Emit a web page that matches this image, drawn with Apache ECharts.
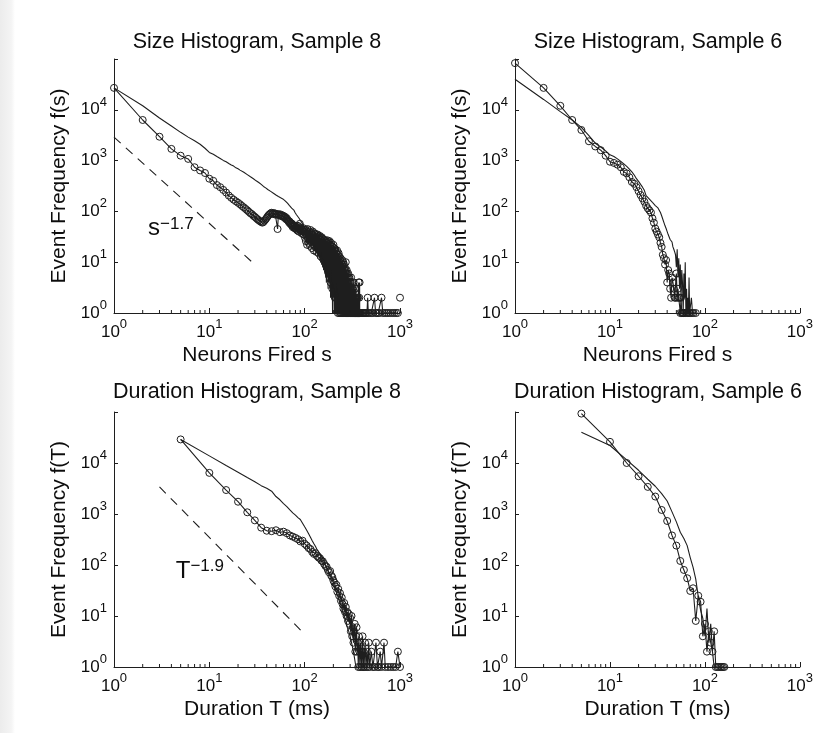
<!DOCTYPE html>
<html><head><meta charset="utf-8">
<script src="https://cdn.jsdelivr.net/npm/echarts@6/dist/echarts.min.js"></script>
<style>html,body{margin:0;padding:0;background:#fff}#c{width:816px;height:733px}</style>
</head><body><div id="c"></div>
<script>
// ---------------- DATA ----------------
const titles = ['Size Histogram, Sample 8','Size Histogram, Sample 6','Duration Histogram, Sample 8','Duration Histogram, Sample 6'];
const xNames = ['Neurons Fired s','Neurons Fired s','Duration T (ms)','Duration T (ms)'];
const yNames = ['Event Frequency f(s)','Event Frequency f(s)','Event Frequency f(T)','Event Frequency f(T)'];
const minorTickValues = [2,3,4,5,6,7,8,9,20,30,40,50,60,70,80,90,200,300,400,500,600,700,800,900];

// Panel 1: size histogram, sample 8 (x = 1, 2, 3, ... neurons)
const sizeS8CircY = [27000,6300,2950,1700,1250,1080,740,640,570,440,
400,330,300,265,235,205,185,170,158,148,
138,128,120,112,105,98,92,88,82,78,
74,70,67,64,62,60,62,66,70,75,
80,85,88,92,94,90,93,88,91,86,
89,45,87,84,88,82,85,80,83,78,
80,74,77,70,73,68,66,62,64,58,
60,55,58,52,49,54,50,47,52,46,
50,44,48,42,52,45,40,49,57,43,
46,38,44,41,36,47,40,35,43,39,
30,44,26,41,33,22,45,29,38,24,
40,27,36,21,43,31,25,38,19,35,
28,40,22,33,17,37,26,30,20,36,
24,31,16,34,27,19,35,22,29,15,
32,25,18,33,21,28,13,30,23,17,
31,20,26,12,29,18,24,11,28,19,
22,10,27,16,25,9,21,26,14,8,
24,17,27,7,20,12,25,6,18,23,
10,26,5,19,14,22,4,17,24,8,
15,21,5,18,3,20,11,16,4,22,
9,14,3,19,7,17,2,13,18,5,
12,16,2,10,15,4,13,8,17,3,
11,14,1,9,12,3,15,6,10,1,
13,5,9,2,11,7,1,12,4,8,
1,10,6,2,9,1,7,11,3,5,
1,8,4,10,2,6,1,9,3,7,
1,5,8,2,6,1,4,7,1,10,
3,6,1,5,2,7,1,4,6,1,
3,5,1,4,2,6,1,3,5,1,
4,2,1,5,1,3,2,4,1,3,
1,2,4,1,3,1,5,2,1,3,
1,2,1,4,1,2,3,1,1,2,
1,3,1,2,1,1,4,1,2,1,
1,2,1,1,3,1,1,2,1,1,
2,1,1,1,3,1,2,1,1,1,
1,2,1,1,1,1,2,1,1,1,
1,1,2,1,1,1,1,4,1,1,
1,1,1,2,1,1,4,1,1,1];
const sizeS8CircTailX = [390,400,410,420,430,440,450,458,465,480,500,520,540,555,570,590,610,640,660,690,720,750,790,830,870,910,950,975,1000];
const sizeS8CircTailY = [1,1,1,1,1,1,1,2,1,1,1,1,2,1,1,1,1,2,1,1,1,1,1,1,1,1,1,'-',2];
const sizeS8SolidY = [27000,12000,6900,4800,3600,2900,2450,2100,1750,1450,
1330,1200,1100,1010,950,880,820,780,720,690,
650,620,590,560,530,500,480,460,440,420,
400,385,370,350,340,325,310,300,290,280,
270,262,255,248,240,234,228,222,216,210,
205,200,196,192,188,185,182,180,176,172,
168,163,158,154,150,145,140,135,131,127,
125,120,116,118,115,110,106,100,96,98,
90,86,88,82,80,82,74,76,72,70,
68,63,61,64,57,58,53,55,50,48,
46,49,44,40,45,38,42,36,40,34,
37,32,35,30,33,28,31,27,29,25,
26,22,28,20,25,18,27,21,16,24,
19,23,15,22,18,14,21,17,20,13,
19,16,12,18,15,11,17,14,10,16,
13,9,15,12,8,14,11,7,13,10,
8,12,6,11,9,5,10,8,4,11,
7,9,5,10,6,3,8,6,9,4,
7,5,8,3,6,9,2,7,5,4,
6,2,8,4,5,1,7,3,5,2,
6,3,4,1,5,2,6,3,1,4,2,5,1,3,4,1,2,5,1,3,
2,1,4,2,1,3,1,2,4,1,1,3,2,1,1,2,1,3,1,1,
2,1,1,3,1,1,2,1,1,1,2,1,1,1,1,2,1,1,1,1];
const sizeS8FitX = [1, 31];
const sizeS8FitY = [2900, 8.5];

// Panel 2: size histogram, sample 6
const sizeS6CircY = [83000,27000,12000,6300,4000,2400,1900,1600,1250,950,
900,830,740,600,560,470,380,350,300,250,
210,180,155,130,115,105,95,73,60,46,
40,35,31,24,20,14,12,9,11,4,
7,6,3,2,5,4,3,2,2,6,
2,3,2,2,1,2,1,1,1,1];
const sizeS6CircTailX = [62,64,66,68,70,73,76,80];
const sizeS6CircTailY = [1,1,1,1,1,1,1,1];
const sizeS6SolidY = [40000,16000,9200,6300,4500,3100,2200,1850,1550,1300,
1200,1080,960,860,770,680,600,520,440,390,
340,300,260,205,190,175,162,150,140,130,
123,117,112,95,82,70,60,52,46,40,
35,33,28,27,25,20,18,16,14,8,
18,5,12,3,9,2,7,4,1,6,
2,10,1,3,1,2,1,5,1,1];
const sizeS6SolidTailX = [72,74,78,82];
const sizeS6SolidTailY = [2,1,1,1];

// Panel 3: duration histogram, sample 8 (5 ms bins)
const durS8CircX = [5,10,15,20,25,30,35,40,45,50,55,60,65,70,75,80,85,90,95,100,
105,110,115,120,125,130,135,140,145,150,155,160,165,170,175,180,185,190,195,200,
205,210,215,220,225,230,235,240,245,250,255,260,265,270,275,280,285,290,295,300,
305,310,315,320,325,330,335,340,345,350,355,360,365,370,375,380,385,390,395,400,
405,410,415,420,430,440,450,460,470,480,500,520,540,560,580,600,620,640,680,700,
750,800,850,900,950,1000];
const durS8CircY = [29000,6400,2950,1740,1080,750,540,470,460,480,440,450,420,380,360,340,320,290,300,260,
240,215,205,180,165,170,150,140,135,122,118,105,96,92,80,72,76,62,58,50,
45,38,41,30,34,25,28,20,23,17,14,18,12,15,10,12,8,11,7,9,
5,10,4,6,3,5,7,2,4,6,2,3,1,4,2,1,3,2,1,2,
4,1,2,1,3,1,2,1,3,1,2,1,1,3,1,1,2,1,3,1,
1,1,1,1,2,1];
const durS8SolidX = [5,10,15,20,25,30,35,40,45,50,55,60,65,70,75,80,85,90,95,100,
105,110,115,120,125,130,135,140,145,150,155,160,165,170,175,180,185,190,195,200,
205,210,215,220,225,230,235,240,245,250,255,260,265,270,275,280,285,290,295,300,
305,310,315,320,325,330,335,340,345,350];
const durS8SolidY = [29000,13800,8900,6600,5200,4300,3600,3200,2800,2200,1900,1600,1400,1200,1050,950,850,780,660,560,
480,410,350,300,260,230,200,180,165,155,130,115,100,88,78,70,62,55,50,44,
38,33,29,26,23,20,18,16,14,12,11,10,9,8,7,6,6,5,5,4,
4,3,3,3,2,2,2,2,1,1];
const durS8FitX = [3, 100];
const durS8FitY = [3400, 4.4];

// Panel 4: duration histogram, sample 6
const durS6CircX = [5,10,15,20,25,30,35,40,45,50,55,60,65,70,75,80,85,90,95,100,105,110,115,120,125,130,135,140,145,150,155,160];
const durS6CircY = [93000,26000,10000,5500,3400,2200,1200,730,380,240,120,80,55,31,35,8,25,19,4,7,2,5,3,2,5,1,1,1,1,1,1,1];
const durS6SolidX = [5,10,15,20,25,30,35,40,45,50,55,60,65,70,75,80,85,90,95,100,105,110,115,120,125,130];
const durS6SolidY = [40000,22000,11500,7200,4800,3500,2500,1800,1100,700,440,330,240,140,90,53,24,13,9,4,14,3,7,2,1,1];

// Annotations
const annotations = [
  {panel: 0, x: 3.95, y: 46, base: 's', exp: '\u22121.7'},
  {panel: 2, x: 7.96, y: 76, base: 'T', exp: '\u22121.9'}
];

// ---------------- CHART ----------------
const FONT = '"Liberation Sans", Arial, Helvetica, sans-serif';
const INK = '#0d0d0d';
const LINE = '#1e1e1e';
const seq = ys => ys.map((y, i) => [i + 1, y]);
const zip = (xs, ys) => xs.map((x, i) => [x, ys[i]]);

const grids = [
  {left: 114, top: 59, width: 286, height: 254},
  {left: 515, top: 59, width: 286, height: 254},
  {left: 114, top: 412, width: 286, height: 255},
  {left: 515, top: 412, width: 286, height: 255}
];
const richTick = {
  b: {fontSize: 17, lineHeight: 28, color: INK, fontFamily: FONT},
  s: {fontSize: 13, lineHeight: 12, verticalAlign: 'top', color: INK, fontFamily: FONT}
};
function powLabel(v) {
  const e = Math.round(Math.log10(v));
  if (e > 4) return '';
  return '{b|10}{s|' + e + '}';
}
const xAxes = grids.map((g, i) => ({
  type: 'log', logBase: 10, min: 1, max: 1000, gridIndex: i,
  axisLine: {lineStyle: {color: LINE, width: 1}},
  axisTick: {inside: true, length: 5, lineStyle: {color: LINE}},
  splitLine: {show: false},
  axisLabel: {formatter: powLabel, rich: richTick, margin: 5},
  name: xNames[i], nameLocation: 'middle', nameGap: 32,
  nameTextStyle: {fontSize: 21, color: INK, fontFamily: FONT}
}));
const yAxes = grids.map((g, i) => ({
  type: 'log', logBase: 10, min: 1, max: 100000, gridIndex: i,
  axisLine: {lineStyle: {color: LINE, width: 1}},
  axisTick: {inside: true, length: 4, lineStyle: {color: LINE}},
  splitLine: {show: false},
  axisLabel: {formatter: powLabel, rich: richTick, margin: 7},
  name: yNames[i], nameLocation: 'middle', nameGap: 44,
  nameTextStyle: {fontSize: 21, color: INK, fontFamily: FONT}
}));

function solid(i, data) {
  return {type: 'line', xAxisIndex: i, yAxisIndex: i, data, symbol: 'none', clip: false,
    lineStyle: {color: LINE, width: 1.1}, z: 3, silent: true};
}
function circles(i, data) {
  return {type: 'line', xAxisIndex: i, yAxisIndex: i, data, symbol: 'circle', symbolSize: 7,
    showAllSymbol: true, clip: false, connectNulls: false,
    itemStyle: {color: 'rgba(0,0,0,0)', borderColor: LINE, borderWidth: 1},
    lineStyle: {color: LINE, width: 1.1}, z: 4, silent: true};
}
function dashed(i, data) {
  return {type: 'line', xAxisIndex: i, yAxisIndex: i, data, symbol: 'none',
    lineStyle: {color: LINE, width: 1.1, type: [9, 7]}, z: 3, silent: true};
}
function minorTicks(i) {
  return {type: 'custom', xAxisIndex: i, yAxisIndex: i, silent: true, clip: false, z: 6,
    data: minorTickValues.map(v => [v, 1]),
    renderItem: (p, api) => {
      const c = api.coord([api.value(0), api.value(1)]);
      return {type: 'line', shape: {x1: c[0], y1: c[1], x2: c[0], y2: c[1] - 3},
        style: {stroke: LINE, lineWidth: 1}};
    }};
}

const series = [
  solid(0, seq(sizeS8SolidY)),
  circles(0, seq(sizeS8CircY).concat(zip(sizeS8CircTailX, sizeS8CircTailY))),
  dashed(0, zip(sizeS8FitX, sizeS8FitY)),
  solid(1, seq(sizeS6SolidY).concat(zip(sizeS6SolidTailX, sizeS6SolidTailY))),
  circles(1, seq(sizeS6CircY).concat(zip(sizeS6CircTailX, sizeS6CircTailY))),
  solid(2, zip(durS8SolidX, durS8SolidY)),
  circles(2, zip(durS8CircX, durS8CircY)),
  dashed(2, zip(durS8FitX, durS8FitY)),
  solid(3, zip(durS6SolidX, durS6SolidY)),
  circles(3, zip(durS6CircX, durS6CircY))
];
for (let i = 0; i < 4; i++) series.push(minorTicks(i));
annotations.forEach(a => {
  series.push({type: 'scatter', xAxisIndex: a.panel, yAxisIndex: a.panel, symbolSize: 0, silent: true, z: 7,
    data: [[a.x, a.y]],
    itemStyle: {opacity: 1, color: INK},
    label: {show: true, position: 'inside', color: INK, opacity: 1, textBorderWidth: 0,
      formatter: '{b|' + a.base + '}{s|' + a.exp + '}',
      rich: {
        b: {fontSize: 24, lineHeight: 26, color: INK, fontFamily: FONT, textBorderWidth: 0},
        s: {fontSize: 17, lineHeight: 17, verticalAlign: 'top', color: INK, fontFamily: FONT, textBorderWidth: 0}
      }}
  });
});

const titleCenters = [[257, 42], [658, 42], [257, 392], [658, 392]];
const graphics = [{
  type: 'rect', silent: true, z: -10,
  shape: {x: 0, y: 0, width: 15, height: 733},
  style: {fill: new echarts.graphic.LinearGradient(0, 0, 1, 0, [
    {offset: 0, color: '#ececec'}, {offset: 0.75, color: '#f4f4f4'}, {offset: 1, color: '#ffffff'}])}
}];
titles.forEach((t, i) => {
  graphics.push({type: 'text', x: titleCenters[i][0], y: titleCenters[i][1], silent: true,
    style: {text: t, font: '21.5px ' + FONT, fill: INK, align: 'center', verticalAlign: 'middle',
      textAlign: 'center', textVerticalAlign: 'middle'}});
});

const chart = echarts.init(document.getElementById('c'), null, {renderer: 'canvas'});
chart.setOption({
  animation: false,
  backgroundColor: '#ffffff',
  textStyle: {fontFamily: FONT},
  grid: grids,
  xAxis: xAxes,
  yAxis: yAxes,
  series,
  graphic: graphics
});
</script></body></html>
